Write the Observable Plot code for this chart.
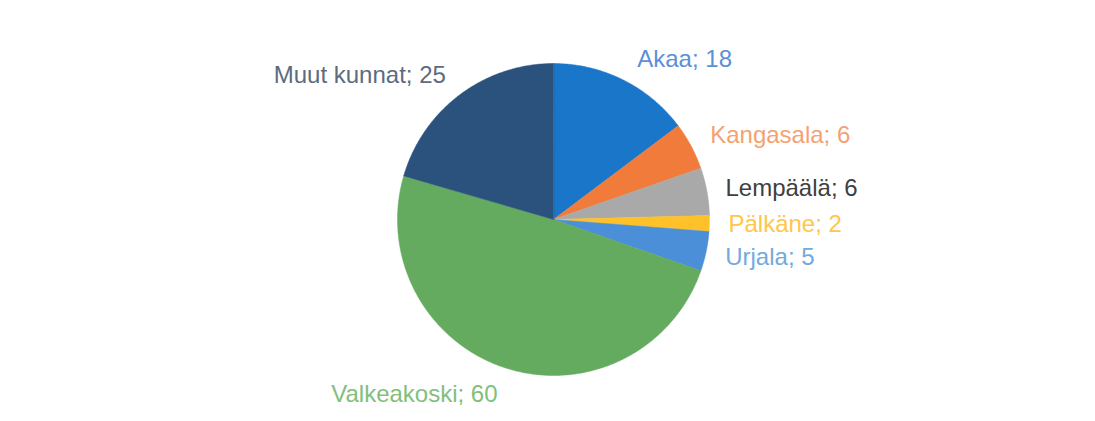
<!DOCTYPE html>
<html>
<head>
<meta charset="utf-8">
<script src="https://cdn.jsdelivr.net/npm/d3@7"></script>
<script src="https://cdn.jsdelivr.net/npm/@observablehq/plot@0.6"></script>
<style>
  html, body { margin: 0; padding: 0; background: #ffffff; }
  #chart svg { display: block; }
</style>
</head>
<body>
<div id="chart"></div>
<script>
// ---- data ----
const categories = ["Akaa", "Kangasala", "Lempäälä", "Pälkäne", "Urjala", "Valkeakoski", "Muut kunnat"];
const values = [18, 6, 6, 2, 5, 60, 25];

// ---- styles ----
const sliceColors = ["#1a76c9", "#f07b3b", "#a9a9a9", "#ffc12a", "#4a8fd8", "#64aa5f", "#2a527c"];
const labelColors = ["#5b8fd6", "#f4a272", "#404040", "#ffc64a", "#72aade", "#7fc07b", "#5c6b80"];
// label offsets (px) from the slice's mid-angle point on the rim, and text anchor
const labelOffsets = [[14, -21], [19, -10.5], [18.5, -3], [19, 1], [19, 5.5], [-8.5, 26], [-14, -19]];
const labelAnchors = ["start", "start", "start", "start", "start", "end", "end"];

// ---- geometry from the data via d3.pie (clockwise from 12 o'clock) ----
const arcs = d3.pie().sort(null).value(d => d)(values);
const pt = (a, r) => ({x: r * Math.sin(a), y: r * Math.cos(a)});

const slices = arcs.map((a, i) => {
  const pts = [{x: 0, y: 0}];
  const n = Math.max(2, Math.ceil((a.endAngle - a.startAngle) / (Math.PI / 360)));
  for (let k = 0; k <= n; k++) {
    pts.push(pt(a.startAngle + (a.endAngle - a.startAngle) * k / n, 1));
  }
  return pts;
});

const labels = arcs.map((a, i) => {
  const m = (a.startAngle + a.endAngle) / 2;
  return {...pt(m, 1), text: `${categories[i]}; ${values[i]}`, i};
});

const marks = slices.map((pts, i) =>
  Plot.line(pts, {x: "x", y: "y", fill: sliceColors[i], stroke: sliceColors[i], strokeWidth: 0.5, curve: "linear-closed"})
);
labels.forEach(l => {
  marks.push(Plot.text([l], {
    x: "x", y: "y", text: "text",
    dx: labelOffsets[l.i][0], dy: labelOffsets[l.i][1],
    textAnchor: labelAnchors[l.i],
    fill: labelColors[l.i],
    fontSize: 24
  }));
});

const chart = Plot.plot({
  width: 1095,
  height: 421,
  margin: 0,
  x: {domain: [-1, 1], range: [397, 709], axis: null},
  y: {domain: [-1, 1], range: [375, 63], axis: null},
  style: {fontFamily: "'Liberation Sans', Arial, sans-serif", background: "#ffffff"},
  marks
});
document.getElementById("chart").appendChild(chart);
</script>
</body>
</html>
